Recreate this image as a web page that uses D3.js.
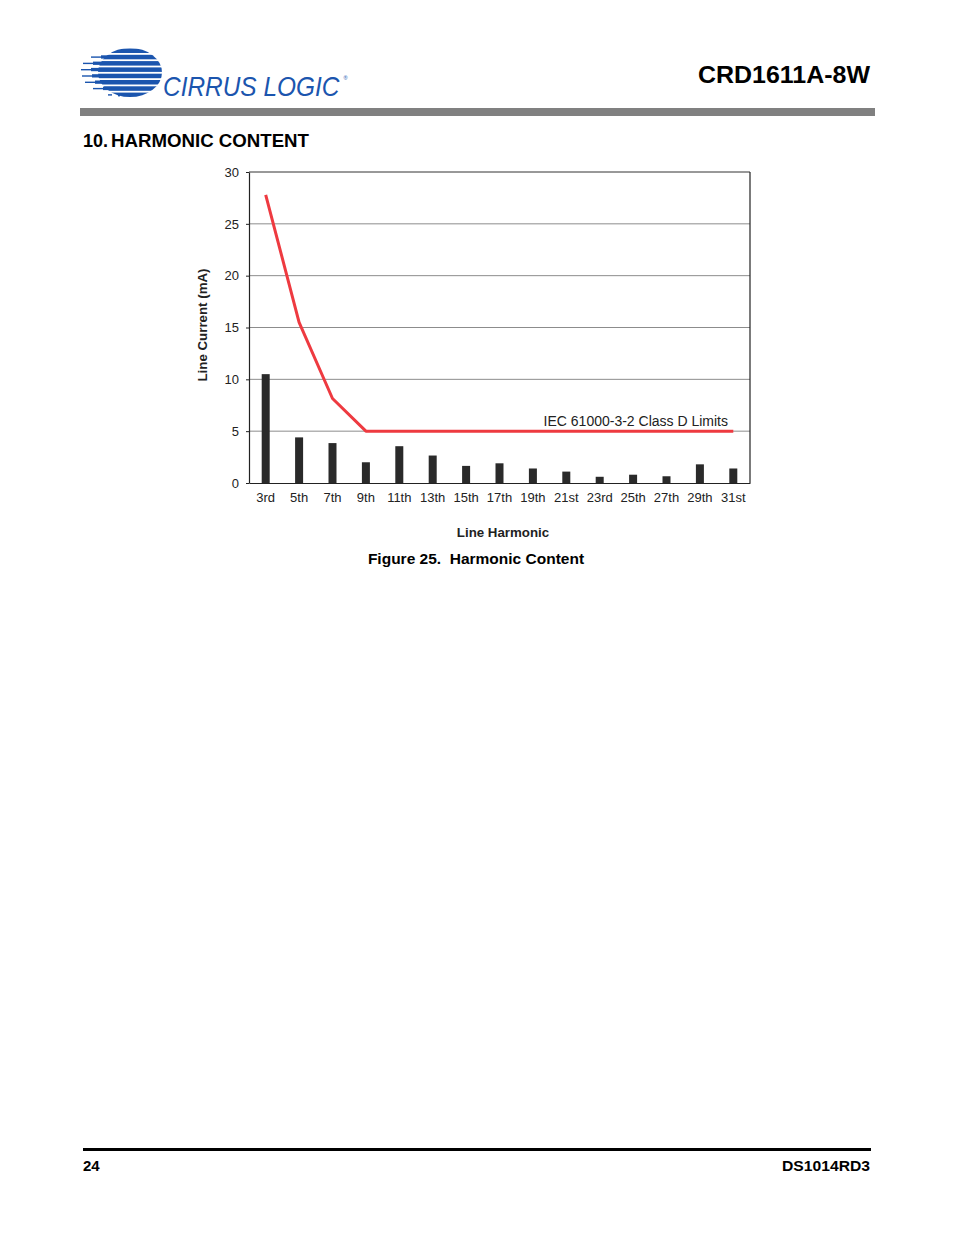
<!DOCTYPE html>
<html>
<head>
<meta charset="utf-8">
<script src="https://cdn.jsdelivr.net/npm/d3@7"></script>
<style>
  html, body { margin: 0; padding: 0; background: #fff; }
  svg { display: block; }
  text { font-family: "Liberation Sans", Arial, sans-serif; }
</style>
</head>
<body>
<svg id="page" width="954" height="1235"></svg>
<script>
// ---- data ----
const harmonics = ["3rd","5th","7th","9th","11th","13th","15th","17th","19th","21st","23rd","25th","27th","29th","31st"];
const measured  = [10.5, 4.4, 3.85, 2.0, 3.55, 2.65, 1.65, 1.9, 1.4, 1.1, 0.6, 0.8, 0.65, 1.8, 1.4];
const classDLimit = [27.8, 15.5, 8.15, 5.0, 5.0, 5.0, 5.0, 5.0, 5.0, 5.0, 5.0, 5.0, 5.0, 5.0, 5.0];
const yTicks = [0, 5, 10, 15, 20, 25, 30];

(function () {
const svg = d3.select("#page");

// ---- page header ----
const blue = "#1b55ae";
const logo = svg.append("g");
const defs = svg.append("defs");
defs.append("clipPath").attr("id", "globeClip")
  .append("ellipse").attr("cx", 130).attr("cy", 72.5).attr("rx", 32).attr("ry", 24.5);
const stripes = [[48.5,121],[54.8,91],[61.1,83],[67.4,81],[73.7,82],[80,85],[86.3,93],[92.6,108]];
stripes.forEach(([sy, sx]) => {
  logo.append("rect").attr("x", sx).attr("y", sy + 1.6).attr("width", 112 - sx).attr("height", 1.4).attr("fill", blue);
  logo.append("rect").attr("x", 90).attr("y", sy).attr("width", 80).attr("height", 4.5)
    .attr("fill", blue).attr("clip-path", "url(#globeClip)");
  logo.append("rect").attr("x", sx + 10).attr("y", sy + 0.5).attr("width", 110 - sx).attr("height", 3.3).attr("fill", blue);
});
logo.append("text").attr("transform", "translate(163,96) scale(0.905,1)")
  .attr("font-size", 27).attr("font-style", "italic").attr("fill", blue).text("CIRRUS LOGIC");
logo.append("text").attr("x", 343.5).attr("y", 80).attr("font-size", 5.5).attr("fill", blue).text("®");

svg.append("text").attr("x", 870).attr("y", 83).attr("text-anchor", "end")
  .attr("font-size", 24.5).attr("font-weight", "bold").attr("fill", "#000")
  .attr("textLength", 172).attr("lengthAdjust", "spacingAndGlyphs").text("CRD1611A-8W");
svg.append("rect").attr("x", 80).attr("y", 108).attr("width", 795).attr("height", 8).attr("fill", "#808080");
svg.append("text").attr("x", 83).attr("y", 147).attr("font-size", 18).attr("font-weight", "bold")
  .attr("fill", "#000").text("10.");
svg.append("text").attr("x", 111).attr("y", 147).attr("font-size", 18).attr("font-weight", "bold")
  .attr("fill", "#000").attr("textLength", 198).attr("lengthAdjust", "spacingAndGlyphs").text("HARMONIC CONTENT");

// ---- chart ----
const pLeft = 249, pRight = 750, pTop = 172, pBottom = 483;
const x = d3.scaleBand().domain(harmonics).range([pLeft, pRight]);
const y = d3.scaleLinear().domain([0, 30]).range([pBottom, pTop]);
const cx = d => x(d) + x.bandwidth() / 2;

const chart = svg.append("g");

chart.append("g").selectAll("line").data(yTicks.filter(t => t > 0 && t < 30)).join("line")
  .attr("x1", pLeft).attr("x2", pRight).attr("y1", d => y(d)).attr("y2", d => y(d))
  .attr("stroke", "#8c8c8c").attr("stroke-width", 1);
chart.append("line").attr("x1", pLeft).attr("x2", pRight).attr("y1", y(30)).attr("y2", y(30)).attr("stroke", "#333").attr("stroke-width", 1);
chart.append("line").attr("x1", pRight).attr("x2", pRight).attr("y1", pTop).attr("y2", pBottom).attr("stroke", "#222").attr("stroke-width", 1.2);

const barW = 8;
chart.append("g").selectAll("rect").data(harmonics).join("rect")
  .attr("x", (d) => cx(d) - barW / 2)
  .attr("y", (d, i) => y(measured[i]))
  .attr("width", barW)
  .attr("height", (d, i) => y(0) - y(measured[i]))
  .attr("fill", "#2a2a2a");

const line = d3.line().x((d, i) => cx(harmonics[i])).y(d => y(d));
chart.append("path").datum(classDLimit).attr("d", line)
  .attr("fill", "none").attr("stroke", "#ee3a40").attr("stroke-width", 3).attr("stroke-linejoin", "round");

const yAxis = chart.append("g").attr("transform", `translate(${pLeft},0)`)
  .call(d3.axisLeft(y).tickValues(yTicks).tickSize(3).tickSizeOuter(0).tickPadding(7));
yAxis.select(".domain").attr("stroke", "#222").attr("stroke-width", 1.2);
yAxis.selectAll(".tick line").attr("stroke", "#222");
yAxis.selectAll(".tick text").attr("font-size", 13).attr("fill", "#222").attr("font-family", "Liberation Sans, Arial, sans-serif");

const xAxis = chart.append("g").attr("transform", `translate(0,${pBottom})`)
  .call(d3.axisBottom(x).tickSize(0).tickSizeOuter(0).tickPadding(10));
xAxis.select(".domain").attr("stroke", "#222").attr("stroke-width", 1.2);
xAxis.selectAll(".tick text").attr("font-size", 13).attr("fill", "#222").attr("font-family", "Liberation Sans, Arial, sans-serif");

chart.append("text").attr("x", 728).attr("y", 426).attr("text-anchor", "end")
  .attr("font-size", 14).attr("fill", "#222").text("IEC 61000-3-2 Class D Limits");

chart.append("text").attr("transform", `translate(207,325) rotate(-90)`).attr("text-anchor", "middle")
  .attr("font-size", 13.3).attr("font-weight", "bold").attr("fill", "#222").text("Line Current (mA)");
chart.append("text").attr("x", 503).attr("y", 537).attr("text-anchor", "middle")
  .attr("font-size", 13.3).attr("font-weight", "bold").attr("fill", "#222").text("Line Harmonic");

svg.append("text").attr("x", 476).attr("y", 564).attr("text-anchor", "middle")
  .attr("font-size", 15.5).attr("font-weight", "bold").attr("fill", "#000").attr("xml:space", "preserve")
  .text("Figure 25.  Harmonic Content");

// ---- footer ----
svg.append("rect").attr("x", 83).attr("y", 1148).attr("width", 788).attr("height", 3).attr("fill", "#000");
svg.append("text").attr("x", 83).attr("y", 1171).attr("font-size", 15).attr("font-weight", "bold").text("24");
svg.append("text").attr("x", 870).attr("y", 1171).attr("text-anchor", "end").attr("font-size", 15).attr("font-weight", "bold")
  .attr("textLength", 88).attr("lengthAdjust", "spacingAndGlyphs").text("DS1014RD3");
})();
</script>
</body>
</html>
